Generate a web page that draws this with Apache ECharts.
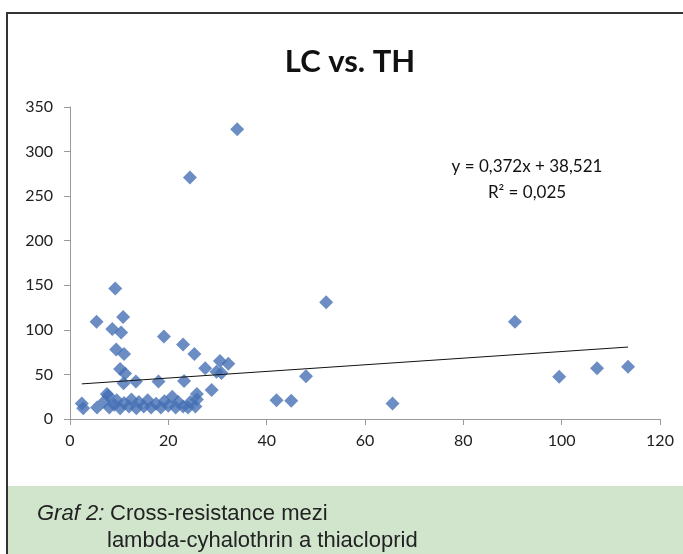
<!DOCTYPE html>
<html>
<head>
<meta charset="utf-8">
<script src="https://cdn.jsdelivr.net/npm/echarts@6/dist/echarts.min.js"></script>
<style>
  html, body { margin: 0; padding: 0; background: #fff; }
  #chart { width: 683px; height: 554px; }
</style>
</head>
<body>
<div id="chart"></div>
<script>
// LC (x) vs. TH (y) body
const lcValues = [
  34.0, 24.4, 52.1, 90.5, 99.5, 107.2, 113.5, 65.6, 48.0, 42.0, 45.0,
  9.2, 5.4, 10.8, 8.6, 10.4, 19.1, 9.4, 11.0, 23.0, 25.3, 30.5, 32.2, 27.5, 29.8, 30.8,
  10.2, 11.2, 7.5, 13.4, 10.9, 18.0, 23.2, 28.8, 25.8,
  2.4, 2.7,
  5.5, 7.0, 7.8, 8.0, 9.0, 9.5, 10.2, 11.0, 12.0, 12.5, 13.5, 14.0, 15.0, 15.8,
  16.5, 17.5, 18.5, 19.2, 20.0, 20.8, 21.5, 22.0, 23.0, 24.0, 24.5, 25.5, 25.8
];
const thValues = [
  325, 271, 131, 109, 47.5, 57, 58.5, 17.5, 48, 21, 20.5,
  146.5, 109, 114.5, 101, 97, 92.5, 78, 73, 83.5, 73, 65, 62, 57, 53, 51.5,
  56, 51, 28, 42, 40, 42, 42.5, 32.5, 28,
  17.5, 12,
  13, 20, 26, 13, 16, 21, 12, 18, 14, 22, 12, 19, 14, 21,
  13, 17, 13, 20, 15, 25, 13, 19, 14, 13, 19, 14, 22
];

// lineární trend: y = 0,372x + 38,521
const trendX = [2.4, 113.5];
const trendY = [39.4, 80.7];

const xTicks = { min: 0, max: 120, step: 20 };
const yTicks = { min: 0, max: 350, step: 50 };

const chartTitle = 'LC vs. TH';
const equationText = 'y = 0,372x + 38,521';
const r2Text = 'R² = 0,025';

const chart = echarts.init(document.getElementById('chart'));

const axisStyle = {
  axisLine: { lineStyle: { color: '#9a9a9a', width: 1 } },
  axisTick: { inside: false, length: 6, lineStyle: { color: '#9a9a9a' } },
  splitLine: { show: false },
  axisLabel: { color: '#222', fontFamily: 'Lato', fontSize: 16 },
};

chart.setOption({
  animation: false,
  grid: { left: 70, right: 23, top: 107, bottom: 135 },
  xAxis: {
    type: 'value',
    min: xTicks.min,
    max: xTicks.max,
    interval: xTicks.step,
    ...axisStyle,
    axisLabel: { ...axisStyle.axisLabel, margin: 14 },
  },
  yAxis: {
    type: 'value',
    min: yTicks.min,
    max: yTicks.max,
    interval: yTicks.step,
    ...axisStyle,
    axisLabel: { ...axisStyle.axisLabel, margin: 17 },
  },
  series: [
    {
      type: 'scatter',
      symbol: 'diamond',
      symbolSize: [14, 14],
      itemStyle: { color: '#4670b5' },
      data: lcValues.map((x, i) => [x, thValues[i]]),
      z: 3,
    },
    {
      type: 'line',
      symbol: 'none',
      lineStyle: { color: '#111', width: 1 },
      data: trendX.map((x, i) => [x, trendY[i]]),
      z: 4,
    },
  ],
  graphic: [
    // rámeček grafu
    {
      type: 'rect',
      shape: { x: 7, y: 13, width: 700, height: 600 },
      style: { fill: 'none', stroke: '#333', lineWidth: 2 },
      silent: true,
      z: -1,
    },
    {
      type: 'text',
      x: 350,
      y: 62,
      style: {
        text: chartTitle,
        fill: '#111',
        font: 'bold 31px Lato',
        textAlign: 'center',
        textVerticalAlign: 'middle',
      },
    },
    {
      type: 'text',
      x: 527,
      y: 167,
      style: {
        text: equationText,
        fill: '#111',
        font: '17px Lato',
        textAlign: 'center',
        textVerticalAlign: 'middle',
      },
    },
    {
      type: 'text',
      x: 527,
      y: 193,
      style: {
        text: r2Text,
        fill: '#111',
        font: '17px Lato',
        textAlign: 'center',
        textVerticalAlign: 'middle',
      },
    },
    // popisek
    {
      type: 'rect',
      shape: { x: 8, y: 486, width: 680, height: 70 },
      style: { fill: '#d0e5cc' },
      silent: true,
    },
    {
      type: 'text',
      x: 37,
      y: 514,
      style: {
        text: 'Graf 2:',
        fill: '#222',
        font: 'italic 22px "Liberation Sans"',
        textVerticalAlign: 'middle',
      },
    },
    {
      type: 'text',
      x: 110,
      y: 514,
      style: {
        text: 'Cross-resistance mezi',
        fill: '#222',
        font: '22px "Liberation Sans"',
        textVerticalAlign: 'middle',
      },
    },
    {
      type: 'text',
      x: 107,
      y: 541,
      style: {
        text: 'lambda-cyhalothrin a thiacloprid',
        fill: '#222',
        font: '22px "Liberation Sans"',
        textVerticalAlign: 'middle',
      },
    },
  ],
});
</script>
</body>
</html>
